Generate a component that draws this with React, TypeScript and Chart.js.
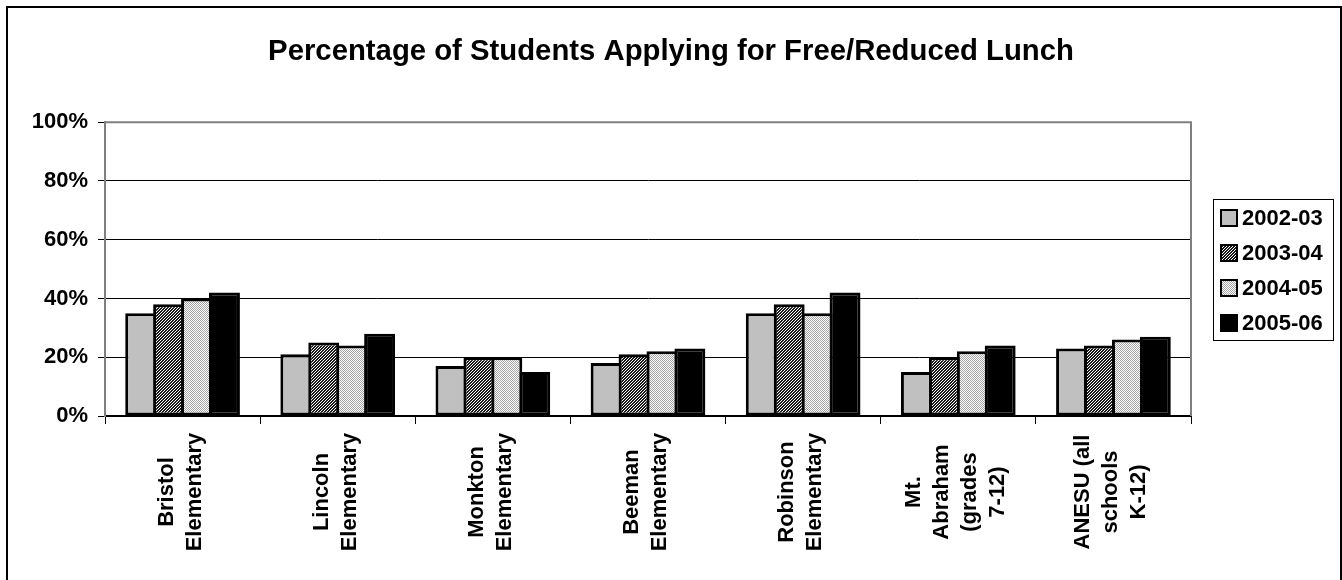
import React, { useEffect, useRef } from 'react';
import { Chart, registerables } from 'chart.js';

Chart.register(...registerables);

const chartTitle = 'Percentage of Students Applying for Free/Reduced Lunch';
const categories: string[][] = [
  ['Bristol', 'Elementary'],
  ['Lincoln', 'Elementary'],
  ['Monkton', 'Elementary'],
  ['Beeman', 'Elementary'],
  ['Robinson', 'Elementary'],
  ['Mt.', 'Abraham', '(grades', '7-12)'],
  ['ANESU (all', 'schools', 'K-12)'],
];
const seriesLabels = ['2002-03', '2003-04', '2004-05', '2005-06'];
const values2002 = [35, 21, 17, 18, 35, 15, 23];
const values2003 = [38, 25, 20, 21, 38, 20, 24];
const values2004 = [40, 24, 20, 22, 35, 22, 26];
const values2005 = [42, 28, 15, 23, 42, 24, 27];
const yMin = 0;
const yMax = 100;
const yStep = 20;

const FONT = "'Liberation Sans', Arial, Helvetica, sans-serif";

function makeTile(size: number, paint: (x: number, y: number) => string | null, bg: string) {
  const c = document.createElement('canvas');
  c.width = size;
  c.height = size;
  const g = c.getContext('2d')!;
  g.fillStyle = bg;
  g.fillRect(0, 0, size, size);
  for (let y = 0; y < size; y++) {
    for (let x = 0; x < size; x++) {
      const col = paint(x, y);
      if (col) {
        g.fillStyle = col;
        g.fillRect(x, y, 1, 1);
      }
    }
  }
  return g.createPattern(c, 'repeat')!;
}

export default function App() {
  const ref = useRef<HTMLCanvasElement | null>(null);

  useEffect(() => {
    document.body.style.margin = '0';
    document.body.style.overflow = 'hidden';
    const canvas = ref.current!;

    const hatch = makeTile(3, (x, y) => ((x + y) % 3 < 2 ? '#1a1a1a' : null), '#ffffff');
    const dots = makeTile(2, (x, y) => ((x + y) % 2 === 0 ? '#a4a4a4' : null), '#ffffff');
    const fills: (string | CanvasPattern)[] = ['#c0c0c0', hatch, dots, '#000000'];
    const seriesValues = [values2002, values2003, values2004, values2005];

    const decor = {
      id: 'decor',
      afterDatasetsDraw(chart: any) {
        const { ctx, chartArea: a } = chart;
        ctx.save();
        ctx.strokeStyle = '#808080';
        ctx.lineWidth = 2;
        ctx.beginPath();
        ctx.moveTo(a.left, a.top);
        ctx.lineTo(a.right, a.top);
        ctx.lineTo(a.right, a.bottom);
        ctx.stroke();
        ctx.restore();
      },
      afterDraw(chart: any) {
        const { ctx } = chart;
        const xs = chart.scales.x;
        ctx.save();
        ctx.fillStyle = '#000';
        ctx.font = `bold 22px ${FONT}`;
        ctx.textAlign = 'center';
        ctx.textBaseline = 'middle';
        const lh = 28;
        categories.forEach((lines, i) => {
          const cx = xs.getPixelForValue(i);
          lines.forEach((line, k) => {
            const off = (k - (lines.length - 1) / 2) * lh - 2;
            ctx.save();
            ctx.translate(cx + off, 492);
            ctx.rotate(-Math.PI / 2);
            ctx.fillText(line, 0, 0);
            ctx.restore();
          });
        });
        // legend
        const lx = 1213.5, ly = 199.5, lw = 120, lhBox = 141;
        ctx.fillStyle = '#fff';
        ctx.fillRect(lx, ly, lw, lhBox);
        ctx.strokeStyle = '#000';
        ctx.lineWidth = 1;
        ctx.strokeRect(lx, ly, lw, lhBox);
        chart.data.datasets.forEach((ds: any, i: number) => {
          const cy = 218 + i * 35;
          ctx.fillStyle = ds.backgroundColor;
          ctx.fillRect(1221, cy - 8, 16, 16);
          ctx.strokeStyle = '#000';
          ctx.lineWidth = 2;
          ctx.strokeRect(1221, cy - 8, 16, 16);
          ctx.fillStyle = '#000';
          ctx.textAlign = 'left';
          ctx.textBaseline = 'middle';
          ctx.fillText(ds.label, 1242, cy + 1);
        });
        // outer frame
        ctx.strokeStyle = '#000';
        ctx.lineWidth = 2;
        ctx.strokeRect(7, 7, 1334, 620);
        ctx.restore();
      },
    };

    const chart = new Chart(canvas, {
      type: 'bar',
      data: {
        labels: categories.map((l) => l.join(' ')),
        datasets: seriesLabels.map((label, i) => ({
          label,
          data: seriesValues[i],
          backgroundColor: fills[i] as any,
          borderColor: '#000000',
          borderWidth: 3,
          borderSkipped: false,
          barPercentage: 1.1075,
          categoryPercentage: 0.72,
        })),
      },
      options: {
        animation: false,
        responsive: true,
        maintainAspectRatio: false,
        events: [],
        layout: { padding: 0 },
        plugins: {
          legend: { display: false },
          tooltip: { enabled: false },
          title: {
            display: true,
            text: chartTitle,
            color: '#000',
            font: { family: FONT, size: 29.3, weight: 'bold' },
            padding: { top: 34, bottom: 53 },
          },
        },
        scales: {
          x: {
            offset: true,
            grid: { offset: true, drawOnChartArea: false, drawTicks: true, tickLength: 8, color: '#000', lineWidth: 1 },
            border: { display: true, color: '#000', width: 2 },
            ticks: { display: false },
            afterFit(scale: any) {
              scale.height = 164;
            },
          },
          y: {
            min: yMin,
            max: yMax,
            ticks: {
              stepSize: yStep,
              color: '#000',
              padding: 10,
              font: { family: FONT, size: 22, weight: 'bold' },
              callback: (v: any) => `${v}%`,
            },
            grid: { color: '#000', lineWidth: 1, tickLength: 7 },
            border: { display: true, color: '#808080', width: 2 },
            afterFit(scale: any) {
              scale.width = 105;
            },
          },
          legendSpace: {
            type: 'linear',
            position: 'right',
            display: true,
            grid: { display: false, drawTicks: false },
            border: { display: false },
            ticks: { display: false },
            afterFit(scale: any) {
              scale.width = 151;
            },
          },
        },
      },
      plugins: [decor],
    });

    return () => chart.destroy();
  }, []);

  return (
    <div style={{ width: 1342, height: 580, position: 'relative' }}>
      <canvas ref={ref} />
    </div>
  );
}
